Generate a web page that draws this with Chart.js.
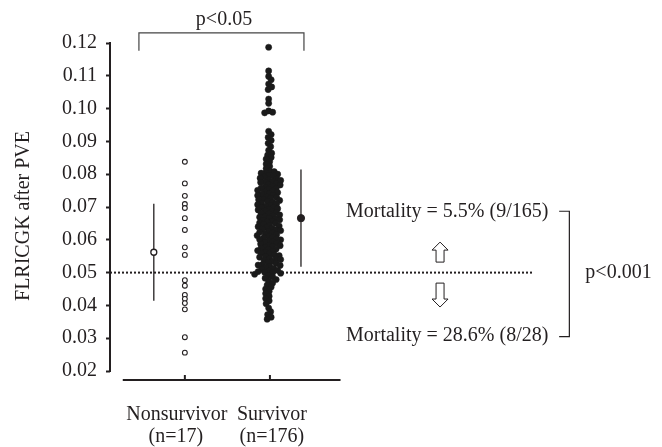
<!DOCTYPE html>
<html>
<head>
<meta charset="utf-8">
<script src="https://cdn.jsdelivr.net/npm/chart.js"></script>
<style>
  html, body { margin: 0; padding: 0; background: #fff; }
  #wrap { width: 662px; height: 447px; position: relative; }
</style>
</head>
<body>
<div id="wrap"><canvas id="dotPlot"></canvas></div>
<script>
// groups on the x axis
const categories = ['Nonsurvivor', 'Survivor'];
const groupSizes = ['(n=17)', '(n=176)'];

// FLRICGK after PVE
const nonsurvivor = [0.0838, 0.0772, 0.0734, 0.0709, 0.0697, 0.0666, 0.0630, 0.0577, 0.0554,
  0.0477, 0.0460, 0.0432, 0.0420, 0.0407, 0.0388, 0.0303, 0.0256];

const survivor = [
  0.1187, 0.1115, 0.1098, 0.1088, 0.1075, 0.1066, 0.1058, 0.1029, 0.1016, 0.0993, 0.0989, 0.0987,
  0.0931, 0.0921, 0.0912, 0.0903, 0.0894, 0.0884, 0.0873,
  0.0864, 0.0858, 0.0851, 0.0846, 0.0838, 0.0831, 0.0824, 0.0817,
  0.0810, 0.0808, 0.0804, 0.0803, 0.0800, 0.0797, 0.0795, 0.0792, 0.0788, 0.0786, 0.0783, 0.0781,
  0.0779, 0.0776, 0.0775, 0.0771, 0.0768, 0.0767, 0.0763, 0.0761, 0.0758, 0.0756, 0.0754, 0.0751,
  0.0749, 0.0746, 0.0744, 0.0741, 0.0739, 0.0736, 0.0735, 0.0731, 0.0729, 0.0726, 0.0724, 0.0722, 0.0720,
  0.0717, 0.0715, 0.0712, 0.0710, 0.0707, 0.0706, 0.0702, 0.0700, 0.0698, 0.0695, 0.0693, 0.0691,
  0.0688, 0.0686, 0.0683, 0.0681, 0.0679, 0.0676, 0.0673, 0.0671, 0.0669, 0.0666, 0.0664, 0.0661, 0.0660,
  0.0657, 0.0655, 0.0652, 0.0650, 0.0647, 0.0645, 0.0642, 0.0640, 0.0637, 0.0635, 0.0633, 0.0630,
  0.0628, 0.0625, 0.0623, 0.0621, 0.0618, 0.0616, 0.0613, 0.0611, 0.0608, 0.0606, 0.0603, 0.0601, 0.0600,
  0.0597, 0.0594, 0.0592, 0.0590, 0.0587, 0.0584, 0.0582, 0.0579, 0.0577, 0.0574, 0.0572, 0.0570,
  0.0567, 0.0565, 0.0562, 0.0559, 0.0557, 0.0554, 0.0552, 0.0549, 0.0547, 0.0544, 0.0542, 0.0540,
  0.0537, 0.0534, 0.0531, 0.0528, 0.0525, 0.0523, 0.0522, 0.0519, 0.0516, 0.0513, 0.0510, 0.0507,
  0.0505, 0.0503, 0.0501, 0.0500,
  0.0498, 0.0495, 0.0491, 0.0487, 0.0483, 0.0479, 0.0474, 0.0468, 0.0462, 0.0456,
  0.0450, 0.0443, 0.0436, 0.0428, 0.0421, 0.0414,
  0.0405, 0.0392, 0.0381, 0.0372, 0.0364, 0.0358
];

// mean and SD drawn beside each group
const groupMeans = [0.0562, 0.0666];
const groupSDs = [0.0148, 0.0148];

const cutoff = 0.05;
const yMin = 0.02, yMax = 0.12, yStep = 0.01;

const pGroups = 'p<0.05';
const pMortality = 'p<0.001';
const mortalityAbove = 'Mortality = 5.5% (9/165)';
const mortalityBelow = 'Mortality = 28.6% (8/28)';
const yTitle = 'FLRICGK after PVE';

const INK = '#231f20';
const FONT = '20px "Liberation Serif", "Times New Roman", serif';

// px per data unit, used only to spread the dense survivor dots sideways
const PX_PER_X = 85;
const PX_PER_Y = 3280;

function swarm(values, center, minPx) {
    const placed = [];
    const out = [];
    values.forEach(v => {
        const py = v * PX_PER_Y;
        let best = 0;
        for (let k = 0; k < 400; k++) {
            const off = (k % 2 ? 1 : -1) * Math.ceil(k / 2) * 0.5;
            const ok = placed.every(p => (p.x - off) ** 2 + (p.y - py) ** 2 >= minPx * minPx);
            if (ok) { best = off; break; }
        }
        placed.push({ x: best, y: py });
        out.push({ x: center + best / PX_PER_X, y: v });
    });
    return out;
}

const nonPoints = nonsurvivor.map(v => ({ x: 1, y: v }));
const survPoints = swarm(survivor, 1.985, 4.1);

const sideOffset = 0.365;
const meanX = [1 - sideOffset, 2 + sideOffset];

function arrow(ctx, cx, tip, base) {
    const dir = base > tip ? 1 : -1;
    const head = 8 * dir;
    ctx.beginPath();
    ctx.moveTo(cx, tip);
    ctx.lineTo(cx + 8, tip + head);
    ctx.lineTo(cx + 4, tip + head);
    ctx.lineTo(cx + 4, base);
    ctx.lineTo(cx - 4, base);
    ctx.lineTo(cx - 4, tip + head);
    ctx.lineTo(cx - 8, tip + head);
    ctx.closePath();
    ctx.stroke();
}

const extras = {
    id: 'extras',
    afterDraw(chart) {
        const { ctx, chartArea } = chart;
        const xs = chart.scales.x, ys = chart.scales.y;
        const X = v => xs.getPixelForValue(v);
        const Y = v => ys.getPixelForValue(v);
        ctx.save();
        ctx.strokeStyle = INK;
        ctx.fillStyle = INK;
        ctx.font = FONT;

        // y axis line
        ctx.lineWidth = 2;
        ctx.beginPath();
        ctx.moveTo(chartArea.left, Y(yMax) - 1);
        ctx.lineTo(chartArea.left, Y(yMin) + 1);
        ctx.stroke();

        // detached x axis with category ticks
        const axisY = chartArea.bottom + 9;
        ctx.beginPath();
        ctx.moveTo(X(0.27), axisY);
        ctx.lineTo(X(2.83), axisY);
        ctx.stroke();
        [1, 2].forEach(c => {
            ctx.beginPath();
            ctx.moveTo(X(c), axisY);
            ctx.lineTo(X(c), axisY - 5);
            ctx.stroke();
        });

        ctx.textAlign = 'center';
        ctx.textBaseline = 'alphabetic';
        ctx.fillText(categories[0], X(1) - 8, 420);
        ctx.fillText(groupSizes[0], X(1) - 9, 442);
        ctx.fillText(categories[1], X(2) + 2, 420);
        ctx.fillText(groupSizes[1], X(2) + 2, 442);

        // y title
        ctx.save();
        ctx.translate(24, 216);
        ctx.rotate(-Math.PI / 2);
        ctx.textBaseline = 'middle';
        ctx.fillText(yTitle, 0, 0);
        ctx.restore();

        // top bracket
        ctx.lineWidth = 1.2;
        ctx.strokeStyle = '#444';
        ctx.beginPath();
        ctx.moveTo(X(0.46), Y(0.1176));
        ctx.lineTo(X(0.46), Y(0.1231));
        ctx.lineTo(X(2.40), Y(0.1231));
        ctx.lineTo(X(2.40), Y(0.1176));
        ctx.stroke();
        ctx.textBaseline = 'middle';
        ctx.fillText(pGroups, X(1.46), 20);

        // mortality annotations
        ctx.strokeStyle = INK;
        ctx.textAlign = 'right';
        ctx.fillText(mortalityAbove, X(5.273), Y(0.0685));
        ctx.fillText(mortalityBelow, X(5.273), Y(0.0307));
        ctx.beginPath();
        ctx.moveTo(X(5.40), Y(0.0687));
        ctx.lineTo(X(5.52), Y(0.0687));
        ctx.lineTo(X(5.52), Y(0.0305));
        ctx.lineTo(X(5.40), Y(0.0305));
        ctx.stroke();
        ctx.textAlign = 'left';
        ctx.fillText(pMortality, X(5.708), Y(cutoff));

        ctx.lineWidth = 1;
        arrow(ctx, X(4), Y(0.0593), Y(0.0532));
        arrow(ctx, X(4), Y(0.0395), Y(0.0468));
        ctx.restore();
    }
};

new Chart(document.getElementById('dotPlot'), {
    type: 'scatter',
    data: {
        datasets: [
            {
                label: categories[1],
                data: survPoints,
                pointRadius: 3.1,
                pointBackgroundColor: '#1a1a1a',
                pointBorderColor: '#1a1a1a',
                pointBorderWidth: 0.5
            },
            {
                label: categories[0],
                data: nonPoints,
                pointRadius: 2.4,
                pointBackgroundColor: '#fff',
                pointBorderColor: INK,
                pointBorderWidth: 1.1
            },
            {
                label: 'mean non',
                data: [{ x: meanX[0], y: groupMeans[0] }],
                pointRadius: 3,
                pointBackgroundColor: '#fff',
                pointBorderColor: INK,
                pointBorderWidth: 1.3
            },
            {
                label: 'mean surv',
                data: [{ x: meanX[1], y: groupMeans[1] }],
                pointRadius: 3.6,
                pointBackgroundColor: INK,
                pointBorderColor: INK
            },
            {
                label: 'sd non',
                data: [{ x: meanX[0], y: groupMeans[0] - groupSDs[0] }, { x: meanX[0], y: groupMeans[0] + groupSDs[0] }],
                showLine: true,
                borderColor: INK,
                borderWidth: 1.3,
                pointRadius: 0
            },
            {
                label: 'sd surv',
                data: [{ x: meanX[1], y: groupMeans[1] - groupSDs[1] }, { x: meanX[1], y: groupMeans[1] + groupSDs[1] }],
                showLine: true,
                borderColor: INK,
                borderWidth: 1.3,
                pointRadius: 0
            },
            {
                label: 'cutoff',
                data: [{ x: 0.12, y: cutoff }, { x: 5.085, y: cutoff }],
                showLine: true,
                borderColor: INK,
                borderWidth: 2,
                borderDash: [2, 2],
                pointRadius: 0
            }
        ]
    },
    options: {
        responsive: true,
        maintainAspectRatio: false,
        animation: false,
        layout: { padding: { top: 43, left: 0, right: 102, bottom: 76 } },
        plugins: {
            legend: { display: false },
            tooltip: { enabled: false }
        },
        scales: {
            x: {
                type: 'linear',
                display: false,
                min: 0.12,
                max: 5.41
            },
            y: {
                min: yMin,
                max: yMax,
                afterFit: function (scale) { scale.width = 110; },
                border: { display: false },
                grid: {
                    drawOnChartArea: false,
                    drawTicks: true,
                    tickLength: 4,
                    tickWidth: 2,
                    color: INK
                },
                ticks: {
                    stepSize: yStep,
                    padding: 9,
                    color: INK,
                    font: { family: '"Liberation Serif", "Times New Roman", serif', size: 20 },
                    callback: v => v.toFixed(2)
                }
            }
        }
    },
    plugins: [extras]
});
</script>
</body>
</html>
